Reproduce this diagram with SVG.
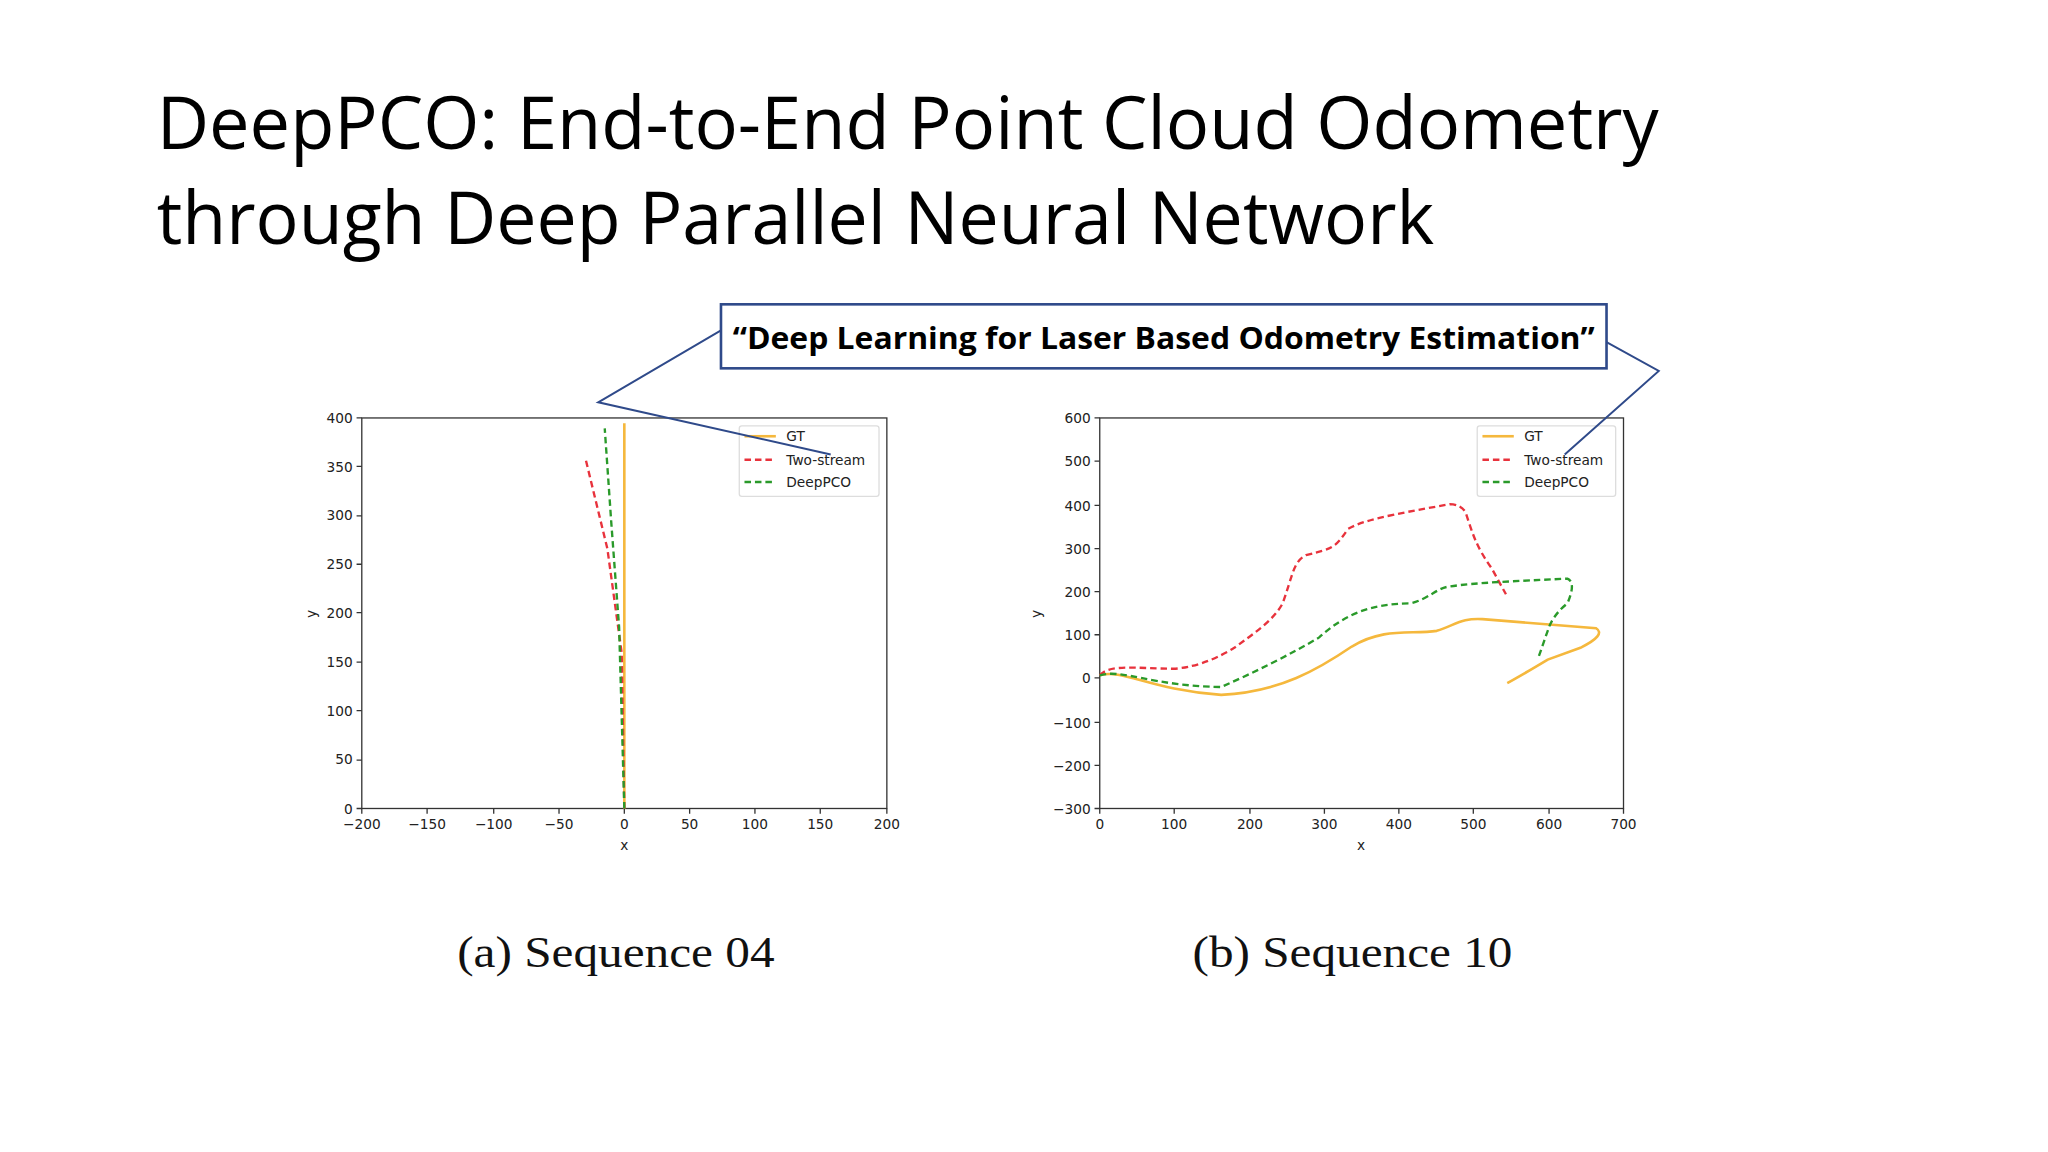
<svg xmlns="http://www.w3.org/2000/svg" width="2048" height="1152" viewBox="0 0 2048 1152">
<style>
.t{font-family:"Open Sans","Noto Sans",sans-serif;fill:#000}
.tk{font-family:"DejaVu Sans",sans-serif;font-size:10.5px;fill:#222}
.ax{fill:none;stroke:#333;stroke-width:1}
.gt{fill:none;stroke:#f5b83d;stroke-width:2}
.ts{fill:none;stroke:#e8323c;stroke-width:1.8;stroke-dasharray:5,3}
.dp{fill:none;stroke:#2a9a2a;stroke-width:1.8;stroke-dasharray:5,3}
.cap{font-family:"Liberation Serif",serif;font-size:34px;fill:#111}
.co{fill:none;stroke:#2f4a8a;stroke-width:1.5}
</style>
<rect width="2048" height="1152" fill="#fff"/>
<g transform="scale(1.30612)">
<g id="title">
<text class="t" x="120" y="114" font-size="56" textLength="1150" lengthAdjust="spacingAndGlyphs">DeepPCO: End-to-End Point Cloud Odometry</text>
<text class="t" x="120" y="187" font-size="56" textLength="978" lengthAdjust="spacingAndGlyphs">through Deep Parallel Neural Network</text>
</g>
<g id="plotA">
<rect class="ax" x="277" y="320" width="402" height="299"/>
<g class="tk" text-anchor="middle">
<text x="277" y="635">−200</text><text x="327" y="635">−150</text><text x="378" y="635">−100</text><text x="428" y="635">−50</text><text x="478" y="635">0</text><text x="528" y="635">50</text><text x="578" y="635">100</text><text x="628" y="635">150</text><text x="679" y="635">200</text>
<text x="478" y="651">x</text>
</g>
<g class="tk" text-anchor="end">
<text x="270" y="623">0</text><text x="270" y="585">50</text><text x="270" y="548">100</text><text x="270" y="511">150</text><text x="270" y="473">200</text><text x="270" y="436">250</text><text x="270" y="398">300</text><text x="270" y="361">350</text><text x="270" y="324">400</text>
</g>
<text class="tk" transform="translate(242,470) rotate(-90)" text-anchor="middle">y</text>
<path class="ax" d="M277 619v4M327 619v4M378 619v4M428 619v4M478 619v4M528 619v4M578 619v4M628 619v4M679 619v4M277 619h-4M277 582h-4M277 544h-4M277 507h-4M277 469h-4M277 432h-4M277 395h-4M277 357h-4M277 320h-4"/>
<path class="gt" d="M478 619V324"/>
<path class="ts" d="M478 619L476 500L465 420L448 350"/>
<path class="dp" d="M478 619L474 480L468 400L463 328"/>
<rect x="566" y="326" width="107" height="54" fill="#fff" stroke="#ddd" rx="2"/>
<path class="gt" d="M570 334h24"/><path class="ts" d="M570 352h24"/><path class="dp" d="M570 369h24"/>
<g class="tk"><text x="602" y="338">GT</text><text x="602" y="356">Two-stream</text><text x="602" y="373">DeepPCO</text></g>
</g>
<g id="plotB">
<rect class="ax" x="842" y="320" width="401" height="299"/>
<g class="tk" text-anchor="middle">
<text x="842" y="635">0</text><text x="899" y="635">100</text><text x="957" y="635">200</text><text x="1014" y="635">300</text><text x="1071" y="635">400</text><text x="1128" y="635">500</text><text x="1186" y="635">600</text><text x="1243" y="635">700</text>
<text x="1042" y="651">x</text>
</g>
<g class="tk" text-anchor="end">
<text x="835" y="623">−300</text><text x="835" y="590">−200</text><text x="835" y="557">−100</text><text x="835" y="523">0</text><text x="835" y="490">100</text><text x="835" y="457">200</text><text x="835" y="424">300</text><text x="835" y="391">400</text><text x="835" y="357">500</text><text x="835" y="324">600</text>
</g>
<text class="tk" transform="translate(797,470) rotate(-90)" text-anchor="middle">y</text>
<path class="ax" d="M842 619v4M899 619v4M957 619v4M1014 619v4M1071 619v4M1128 619v4M1186 619v4M1243 619v4M842 619h-4M842 586h-4M842 553h-4M842 519h-4M842 486h-4M842 453h-4M842 420h-4M842 387h-4M842 353h-4M842 320h-4"/>
<path class="gt" d="M842 517C860 512 880 528 935 532C980 530 1010 512 1035 495C1060 480 1080 486 1100 483C1115 478 1120 473 1135 474L1222 481Q1230 486 1210 496L1185 505Q1165 517 1154 523"/>
<path class="ts" d="M842 517C850 508 870 512 900 512C920 510 935 502 945 496C960 485 975 475 982 462C990 440 990 430 1000 425C1020 420 1022 420 1032 405C1045 398 1060 395 1110 386Q1118 386 1122 392C1128 410 1130 418 1142 435L1153 455"/>
<path class="dp" d="M842 517C860 512 880 525 935 526C960 515 990 500 1010 488C1030 470 1050 462 1080 462C1095 458 1100 450 1110 449C1130 446 1160 445 1200 443Q1207 446 1200 462Q1190 470 1186 480L1178 503"/>
<rect x="1131" y="326" width="106" height="54" fill="#fff" stroke="#ddd" rx="2"/>
<path class="gt" d="M1135 334h24"/><path class="ts" d="M1135 352h24"/><path class="dp" d="M1135 369h24"/>
<g class="tk"><text x="1167" y="338">GT</text><text x="1167" y="356">Two-stream</text><text x="1167" y="373">DeepPCO</text></g>
</g>
<g id="callout">
<rect x="552" y="233" width="678" height="49" fill="#fff" stroke="#2f4a8a" stroke-width="2"/>
<text class="t" x="891" y="267" font-size="23" font-weight="bold" text-anchor="middle" textLength="660" lengthAdjust="spacingAndGlyphs">“Deep Learning for Laser Based Odometry Estimation”</text>
</g>
<g id="connectors">
<path class="co" d="M552 253L458 308L636 348"/>
<path class="co" d="M1230 262L1270 284L1198 348"/>
</g>
<g id="captions">
<text class="cap" x="350" y="740" textLength="243" lengthAdjust="spacingAndGlyphs">(a) Sequence 04</text>
<text class="cap" x="913" y="740" textLength="245" lengthAdjust="spacingAndGlyphs">(b) Sequence 10</text>
</g>
</g>
</svg>
